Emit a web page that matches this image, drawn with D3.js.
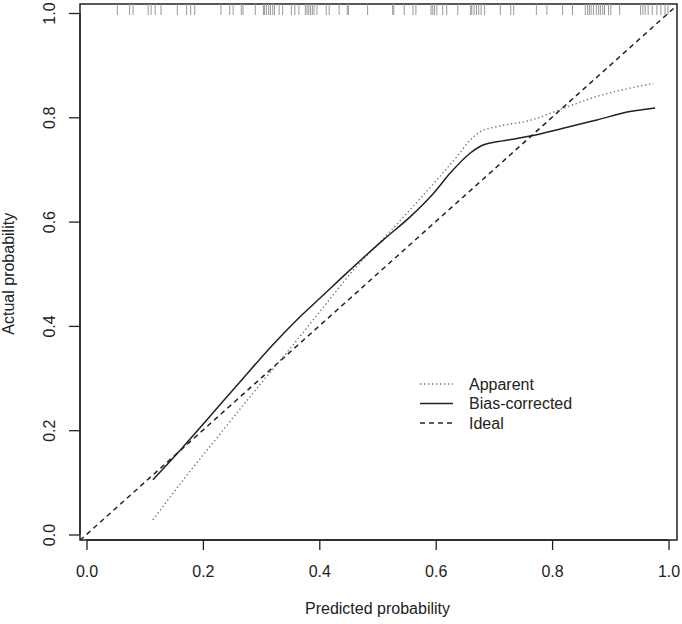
<!DOCTYPE html>
<html>
<head>
<meta charset="utf-8">
<script src="https://cdn.jsdelivr.net/npm/d3@7"></script>
<style>
  body { margin: 0; background: #fff; }
  text { font-family: "Liberation Sans", Arial, sans-serif; fill: #222; }
</style>
</head>
<body>
<div id="chart"></div>
<script>
// apparent calibration curve (predicted, actual)
const apparentX = [0.114, 0.17, 0.221, 0.30, 0.35, 0.41, 0.464, 0.51, 0.561, 0.602, 0.636, 0.659, 0.676, 0.705, 0.762, 0.819, 0.877, 0.934, 0.974];
const apparentY = [0.028, 0.11, 0.181, 0.29, 0.357, 0.44, 0.514, 0.567, 0.629, 0.680, 0.724, 0.756, 0.772, 0.782, 0.794, 0.817, 0.840, 0.856, 0.865];
// bias-corrected curve
const biasX = [0.114, 0.166, 0.207, 0.264, 0.321, 0.36, 0.40, 0.44, 0.47, 0.51, 0.556, 0.596, 0.625, 0.659, 0.676, 0.705, 0.733, 0.762, 0.819, 0.877, 0.934, 0.977];
const biasY = [0.105, 0.168, 0.220, 0.293, 0.365, 0.41, 0.452, 0.494, 0.525, 0.565, 0.609, 0.654, 0.693, 0.731, 0.744, 0.753, 0.758, 0.764, 0.779, 0.795, 0.811, 0.818];
// rug of predicted probabilities (top)
const rug = [0.053, 0.074, 0.080, 0.106, 0.111, 0.118, 0.128, 0.156, 0.172, 0.179, 0.186, 0.231, 0.246, 0.252, 0.266, 0.269,
  0.290, 0.304, 0.306, 0.309, 0.313, 0.316, 0.320, 0.323, 0.331, 0.337, 0.352, 0.358, 0.365, 0.376, 0.379, 0.382, 0.385,
  0.388, 0.391, 0.396, 0.412, 0.417, 0.434, 0.448, 0.450, 0.483, 0.526, 0.528, 0.546, 0.561, 0.566, 0.592, 0.595, 0.598,
  0.602, 0.612, 0.619, 0.638, 0.660, 0.662, 0.666, 0.670, 0.674, 0.678, 0.684, 0.711, 0.729, 0.734, 0.773, 0.791, 0.818,
  0.835, 0.857, 0.861, 0.864, 0.867, 0.871, 0.876, 0.880, 0.883, 0.887, 0.890, 0.897, 0.901, 0.916, 0.952, 0.956, 0.960,
  0.965, 0.972, 0.980, 0.987, 0.994, 0.999];
const ticks = [0, 0.2, 0.4, 0.6, 0.8, 1.0];
const legendLabels = ["Apparent", "Bias-corrected", "Ideal"];

const W = 682, H = 624;
const box = {left: 80, top: 4, right: 677, bottom: 540};

const svg = d3.select("#chart").append("svg")
  .attr("width", W).attr("height", H);

const x = d3.scaleLinear().domain([0, 1]).range([86.5, 668.5]);
const y = d3.scaleLinear().domain([0, 1]).range([534.5, 13]);

svg.append("clipPath").attr("id", "clip")
  .append("rect")
  .attr("x", box.left).attr("y", box.top)
  .attr("width", box.right - box.left).attr("height", box.bottom - box.top);

// axes
const xAxis = svg.append("g")
  .attr("transform", `translate(0,${box.bottom})`)
  .call(d3.axisBottom(x).tickValues(ticks).tickFormat(d3.format(".1f")).tickSize(10).tickPadding(16));
xAxis.select(".domain").attr("d", `M${x(0)},0H${x(1)}`);
const yAxis = svg.append("g")
  .attr("transform", `translate(${box.left},0)`)
  .call(d3.axisLeft(y).tickValues(ticks).tickFormat(d3.format(".1f")).tickSize(11).tickPadding(0));
yAxis.select(".domain").attr("d", `M0,${y(0)}V${y(1)}`);
[xAxis, yAxis].forEach(a => {
  a.selectAll("line, path").attr("stroke", "#222").attr("stroke-width", 1.3);
  a.selectAll("text").style("font-size", "16px").attr("fill", "#222");
});
yAxis.selectAll(".tick text")
  .attr("x", null).attr("dy", null)
  .attr("text-anchor", "middle")
  .attr("transform", "translate(-25,0) rotate(-90)");

// plot box
svg.append("rect")
  .attr("x", box.left).attr("y", box.top)
  .attr("width", box.right - box.left).attr("height", box.bottom - box.top)
  .attr("fill", "none").attr("stroke", "#222").attr("stroke-width", 1.5);

// rug
svg.append("g").selectAll("line").data(rug).enter().append("line")
  .attr("x1", d => x(d)).attr("x2", d => x(d))
  .attr("y1", box.top).attr("y2", box.top + 11)
  .attr("stroke", "#999").attr("stroke-width", 1);

const line = d3.line().x(d => x(d[0])).y(d => y(d[1])).curve(d3.curveMonotoneX);
const plot = svg.append("g").attr("clip-path", "url(#clip)");

// ideal
const idealDom = [x.invert(box.left), x.invert(box.right)];
plot.append("path")
  .datum(idealDom.map(v => [v, v]))
  .attr("d", d3.line().x(d => x(d[0])).y(d => y(d[1])))
  .attr("fill", "none").attr("stroke", "#222").attr("stroke-width", 1.5)
  .attr("stroke-dasharray", "5,4");

plot.append("path")
  .datum(apparentX.map((v, i) => [v, apparentY[i]]))
  .attr("d", line)
  .attr("fill", "none").attr("stroke", "#777").attr("stroke-width", 1.4)
  .attr("stroke-dasharray", "1.4,2.6");

plot.append("path")
  .datum(biasX.map((v, i) => [v, biasY[i]]))
  .attr("d", line)
  .attr("fill", "none").attr("stroke", "#222").attr("stroke-width", 1.5);

// legend
const styles = [
  {stroke: "#777", dash: "1.4,2.6"},
  {stroke: "#222", dash: null},
  {stroke: "#222", dash: "5,4"}
];
const leg = svg.append("g").attr("transform", "translate(420,384)");
const rows = leg.selectAll("g").data(legendLabels).enter().append("g")
  .attr("transform", (d, i) => `translate(0,${i * 19.5})`);
rows.append("line")
  .attr("x1", 0).attr("x2", 33).attr("y1", 0).attr("y2", 0)
  .attr("stroke", (d, i) => styles[i].stroke)
  .attr("stroke-width", 1.4)
  .attr("stroke-dasharray", (d, i) => styles[i].dash);
rows.append("text")
  .attr("x", 49).attr("y", 0).attr("dy", "0.35em")
  .style("font-size", "16px")
  .text(d => d);

// axis titles
svg.append("text")
  .attr("x", (x(0) + x(1)) / 2).attr("y", 614)
  .attr("text-anchor", "middle").style("font-size", "16px")
  .text("Predicted probability");
svg.append("text")
  .attr("transform", `translate(14,${(y(0) + y(1)) / 2}) rotate(-90)`)
  .attr("text-anchor", "middle").style("font-size", "16px")
  .text("Actual probability");
</script>
</body>
</html>
